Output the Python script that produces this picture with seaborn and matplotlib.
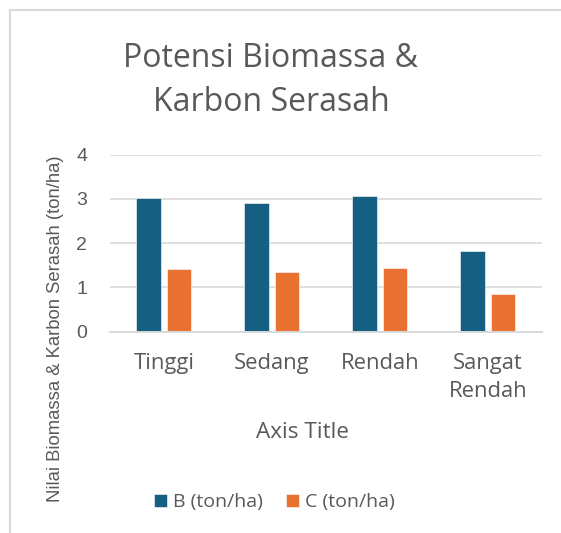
import pandas as pd
import seaborn as sns
import matplotlib.pyplot as plt
from matplotlib.lines import Line2D

categories = ["Tinggi", "Sedang", "Rendah", "Sangat\nRendah"]
biomassa = [3.02, 2.90, 3.07, 1.82]
karbon = [1.42, 1.36, 1.44, 0.85]
series_names = ["B (ton/ha)", "C (ton/ha)"]
y_ticks = [0, 1, 2, 3, 4]

df = pd.DataFrame({
    "kategori": categories * 2,
    "nilai": biomassa + karbon,
    "seri": [series_names[0]] * 4 + [series_names[1]] * 4,
})

sns.set_style("white")
plt.rcParams['font.family'] = ['Open Sans', 'DejaVu Sans']
txt = "#595959"
grid_c = "#D9D9D9"

fig = plt.figure(figsize=(5.61, 5.33), dpi=100)
ax = fig.add_axes([0.196, 0.3777, 0.7696, 0.3321])

sns.barplot(data=df, x="kategori", y="nilai", hue="seri",
            palette=["#156082", "#E97132"], saturation=1, width=0.57, gap=0.21,
            edgecolor="white", linewidth=0.4, ax=ax)

ax.set_ylim(0, 4)
ax.set_xlim(-0.5, 3.5)
ax.set_yticks(y_ticks)
ax.set_yticklabels([str(t) for t in y_ticks], family="Liberation Sans",
                   fontsize=14, color=txt)
ax.tick_params(axis="y", length=0, pad=16.5)
ax.tick_params(axis="x", length=0, pad=15.5, labelsize=15.8, labelcolor=txt)
for lbl in ax.get_xticklabels():
    lbl.set_linespacing(1.45)
ax.grid(axis="y", color=grid_c, linewidth=1.2)
ax.set_axisbelow(True)
for side in ["top", "right", "left"]:
    ax.spines[side].set_visible(False)
ax.spines["bottom"].set_color(grid_c)
ax.spines["bottom"].set_linewidth(1.4)

ax.set_ylabel("Nilai Biomassa & Karbon Serasah (ton/ha)",
              family="Liberation Sans", fontsize=13.3, color=txt)
ax.yaxis.set_label_coords(-0.127, 0.015)
ax.yaxis.label.set_va("center")
ax.set_xlabel("Axis Title", fontsize=16.2, color=txt)
ax.xaxis.set_label_coords(0.447, -0.567)
ax.xaxis.label.set_va("center")

fig.text(0.483, 0.849, "Potensi Biomassa &\nKarbon Serasah", ha="center",
         va="center", fontsize=23, color=txt, linespacing=1.42)

handles, labels = ax.get_legend_handles_labels()
ax.legend_.remove()
fig.legend(handles, labels, loc="center", bbox_to_anchor=(0.489, 0.058),
           ncol=2, frameon=False, fontsize=14, labelcolor=txt,
           handlelength=0.65, handleheight=0.65, handletextpad=0.3,
           columnspacing=1.2)

fig.add_artist(Line2D([0.0178, 0.0178], [0.0, 0.981], color=grid_c, linewidth=1.5))
fig.add_artist(Line2D([0.0178, 1.0], [0.981, 0.981], color=grid_c, linewidth=1.5))

fig.savefig("out.png", dpi=100, facecolor="white")
